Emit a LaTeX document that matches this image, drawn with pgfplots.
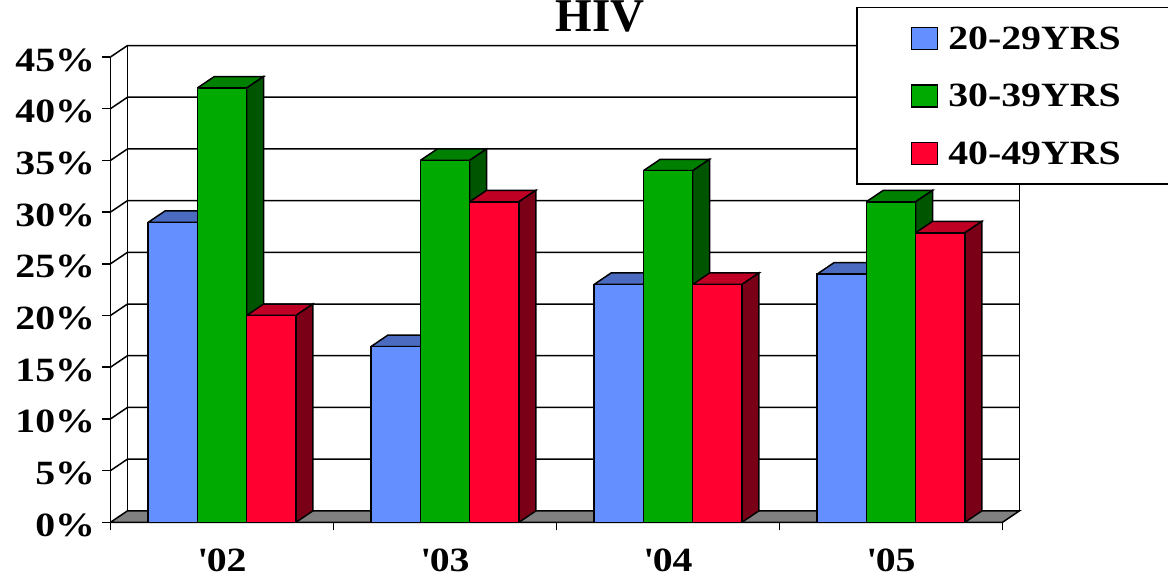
\documentclass[border=0pt]{standalone}
\usepackage{fontspec}
\setmainfont[FakeStretch=1.17]{Liberation Serif}
\newfontfamily\titlefont{Liberation Serif}
\usepackage{pgfplots}
\pgfplotsset{compat=1.18}

\definecolor{blueF}{HTML}{6490FF}
\definecolor{blueT}{HTML}{4A6BC0}
\definecolor{blueS}{HTML}{324880}
\definecolor{greenF}{HTML}{00AA00}
\definecolor{greenT}{HTML}{008000}
\definecolor{greenS}{HTML}{005500}
\definecolor{redF}{HTML}{FF0030}
\definecolor{redT}{HTML}{BF0024}
\definecolor{redS}{HTML}{7A0018}

% depth of the 3D look, in axis units
\def\dx{0.0762}
\def\dy{1.11}
\def\bw{0.2212}
\def\lw{0.75pt}

% top and side of one bar
\newcommand{\barbox}[4]{%
  \pgfmathsetmacro{\xa}{#1-\bw/2}
  \pgfmathsetmacro{\xb}{#1+\bw/2}
  \pgfmathsetmacro{\xc}{#1+\bw/2+\dx}
  \pgfmathsetmacro{\xd}{#1-\bw/2+\dx}
  \pgfmathsetmacro{\yt}{#2+\dy}
  \addplot[forget plot,fill=#3,draw=black,line width=\lw] coordinates {(\xa,#2)(\xd,\yt)(\xc,\yt)(\xb,#2)(\xa,#2)};
  \addplot[forget plot,fill=#4,draw=black,line width=\lw] coordinates {(\xb,0)(\xb,#2)(\xc,\yt)(\xc,\dy)(\xb,0)};
}

\pgfplotsset{
  front/.style={ybar,bar shift=0pt,bar width=24.65pt,fill=#1,draw=black,line width=\lw,
    legend image code/.code={\path[draw=none,fill=none] (0pt,0pt) rectangle (18.3pt,0pt);
      \draw[fill=#1,draw=black,line width=\lw] (0pt,0pt) rectangle (12.8pt,11pt);}},
}

\begin{document}
\begin{tikzpicture}
\begin{axis}[
    at={(0,0)},anchor=south west,
    scale only axis,
    width=446pt,height=232.65pt,
    xmin=0,xmax=4,ymin=0,ymax=45,
    clip=false,
    axis lines=left,
    axis line style={-,line width=\lw},
    tick style={black,line width=\lw},
    tick align=outside,
    major tick length=4pt,
    xtick={0,1,2,3,4},
    x tick label as interval,
    xticklabels={\textquotesingle02,\textquotesingle03,\textquotesingle04,\textquotesingle05},
    ytick={0,5,...,45},
    yticklabel={\pgfmathprintnumber{\tick}\%},
    /pgf/number format/assume math mode=true,
    ticklabel style={font=\bfseries\fontsize{17}{17}\selectfont},
    yticklabel style={xshift=-0.25pt,yshift=-1.5pt},
    xticklabel style={yshift=-5.75pt},
    title={\titlefont\bfseries HIV},
    every axis title shift=0pt,
    title style={at={(0.5492,1.0548)},anchor=base,font=\fontsize{23.5}{23.5}\selectfont},
    legend style={at={(rel axis cs:0.8360,1.1075)},anchor=north west,draw=black,line width=\lw,
      inner xsep=27pt,inner ysep=9.5pt,row sep=17pt,
      nodes={font=\bfseries\fontsize{17}{17}\selectfont,inner sep=0pt,anchor=base west,text depth=0pt}},
    legend cell align=left,
]
% floor and walls
\addplot[forget plot,fill=gray,draw=black,line width=\lw] coordinates {(0,0)(0.0762,1.11)(4.0762,1.11)(4,0)(0,0)};
\addplot[forget plot,black,line width=\lw] coordinates {(0.0762,1.11)(0.0762,46.11)};
\addplot[forget plot,black,line width=\lw] coordinates {(4.0762,1.11)(4.0762,46.11)};
\pgfplotsinvokeforeach{5,10,...,45}{
  \pgfmathsetmacro{\yb}{#1+\dy}
  \addplot[forget plot,black,line width=\lw] coordinates {(0,#1)(0.0762,\yb)(4.0762,\yb)};
}

% 20-29 YRS
\barbox{0.279}{29}{blueT}{blueS}
\barbox{1.279}{17}{blueT}{blueS}
\barbox{2.279}{23}{blueT}{blueS}
\barbox{3.279}{24}{blueT}{blueS}
\addplot[front=blueF] coordinates {(0.279,29)(1.279,17)(2.279,23)(3.279,24)};
\addlegendentry{20-29YRS}

% 30-39 YRS
\barbox{0.5}{42}{greenT}{greenS}
\barbox{1.5}{35}{greenT}{greenS}
\barbox{2.5}{34}{greenT}{greenS}
\barbox{3.5}{31}{greenT}{greenS}
\addplot[front=greenF] coordinates {(0.5,42)(1.5,35)(2.5,34)(3.5,31)};
\addlegendentry{30-39YRS}

% 40-49 YRS
\barbox{0.721}{20}{redT}{redS}
\barbox{1.721}{31}{redT}{redS}
\barbox{2.721}{23}{redT}{redS}
\barbox{3.721}{28}{redT}{redS}
\addplot[front=redF] coordinates {(0.721,20)(1.721,31)(2.721,23)(3.721,28)};
\addlegendentry{40-49YRS}
\end{axis}
\pgfresetboundingbox
\path[use as bounding box] (-55.25pt,-27.35pt) rectangle (528.75pt,261.15pt);
\end{tikzpicture}
\end{document}
